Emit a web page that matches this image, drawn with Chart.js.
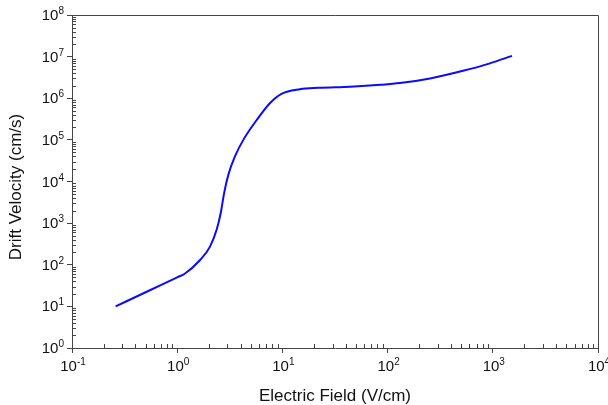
<!DOCTYPE html>
<html>
<head>
<meta charset="utf-8">
<script src="https://cdn.jsdelivr.net/npm/chart.js@4.4.1/dist/chart.umd.min.js"></script>
<style>
  html, body { margin: 0; padding: 0; background: #fff; }
  #wrap { width: 608px; height: 405px; position: relative; }
</style>
</head>
<body>
<div id="wrap"><canvas id="drift"></canvas></div>
<script>
// electric field (V/cm) and drift velocity (cm/s)
const fieldValues = [0.26, 0.55, 1.0, 1.17, 1.65, 2.05, 2.37, 2.59, 2.79, 3.06, 3.54, 4.25, 5.7, 7.6, 9.8, 14.7, 22, 44, 85, 131, 253, 521, 940, 1522];
const velocityValues = [10, 24.4, 50, 60, 130, 272, 690, 1730, 5200, 14400, 40000, 100000, 300000, 760000, 1.28e6, 1.65e6, 1.78e6, 1.9e6, 2.1e6, 2.31e6, 2.99e6, 4.56e6, 6.9e6, 1.045e7];

// decade exponents for the tick labels
const xDecades = [-1, 0, 1, 2, 3, 4];
const yDecades = [0, 1, 2, 3, 4, 5, 6, 7, 8];

const axisColor = '#444444';
const fontFamily = '"Liberation Sans", Arial, sans-serif';

const points = fieldValues.map((x, i) => ({ x: x, y: velocityValues[i] }));

// "10" with a raised exponent
function drawPower(ctx, exp, x, y, align) {
  ctx.font = '15px ' + fontFamily;
  const w1 = ctx.measureText('10').width;
  ctx.font = '10px ' + fontFamily;
  const w2 = ctx.measureText(String(exp)).width;
  const total = w1 + w2;
  let start = align === 'right' ? x - total : x - total / 2;
  ctx.textAlign = 'left';
  ctx.textBaseline = 'alphabetic';
  ctx.font = '15px ' + fontFamily;
  ctx.fillText('10', start, y);
  ctx.font = '10px ' + fontFamily;
  ctx.fillText(String(exp), start + w1, y - 6);
}

const logFrame = {
  id: 'logFrame',
  afterDraw(chart) {
    const ctx = chart.ctx;
    const area = chart.chartArea;
    const xs = chart.scales.x;
    const ys = chart.scales.y;
    ctx.save();
    ctx.strokeStyle = axisColor;
    ctx.lineWidth = 1;

    // top and right edges of the frame
    ctx.beginPath();
    ctx.moveTo(area.left, area.top + 0.5);
    ctx.lineTo(area.right + 0.5, area.top + 0.5);
    ctx.lineTo(area.right + 0.5, area.bottom);
    ctx.stroke();

    // minor ticks, pointing inward
    ctx.beginPath();
    for (let d = xDecades[0]; d < xDecades[xDecades.length - 1]; d++) {
      for (let k = 2; k <= 9; k++) {
        const px = Math.round(xs.getPixelForValue(k * Math.pow(10, d))) + 0.5;
        ctx.moveTo(px, area.bottom);
        ctx.lineTo(px, area.bottom - 4);
      }
    }
    for (let d = yDecades[0]; d < yDecades[yDecades.length - 1]; d++) {
      for (let k = 2; k <= 9; k++) {
        const py = Math.round(ys.getPixelForValue(k * Math.pow(10, d))) + 0.5;
        ctx.moveTo(area.left, py);
        ctx.lineTo(area.left + 4, py);
      }
    }
    ctx.stroke();

    // tick labels
    ctx.fillStyle = '#111';
    xDecades.forEach(p => {
      const px = xs.getPixelForValue(Math.pow(10, p));
      drawPower(ctx, p, px + 1, area.bottom + 23, 'center');
    });
    yDecades.forEach(p => {
      const py = ys.getPixelForValue(Math.pow(10, p));
      drawPower(ctx, p, area.left - 8, py + 5, 'right');
    });

    // axis titles
    ctx.font = '17px ' + fontFamily;
    ctx.textAlign = 'center';
    ctx.textBaseline = 'alphabetic';
    ctx.fillText('Electric Field (V/cm)', (area.left + area.right) / 2, 401);
    ctx.translate(21, 187);
    ctx.rotate(-Math.PI / 2);
    ctx.fillText('Drift Velocity (cm/s)', 0, 0);
    ctx.restore();
  }
};

new Chart(document.getElementById('drift'), {
  type: 'line',
  data: {
    datasets: [{
      data: points,
      borderColor: '#0a0aff',
      borderWidth: 2,
      pointRadius: 0,
      fill: false,
      cubicInterpolationMode: 'monotone'
    }]
  },
  options: {
    responsive: true,
    maintainAspectRatio: false,
    animation: false,
    layout: { padding: { left: 67, right: 10, top: 15, bottom: 52 } },
    plugins: { legend: { display: false }, tooltip: { enabled: false } },
    scales: {
      x: {
        type: 'logarithmic',
        min: 0.1,
        max: 10000,
        afterBuildTicks: scale => {
          scale.ticks = xDecades.map(p => ({ value: Math.pow(10, p), major: true }));
        },
        ticks: { display: false },
        grid: { drawOnChartArea: false, drawTicks: true, tickLength: 5, color: axisColor },
        border: { display: true, color: axisColor, width: 1 }
      },
      y: {
        type: 'logarithmic',
        min: 1,
        max: 1e8,
        afterBuildTicks: scale => {
          scale.ticks = yDecades.map(p => ({ value: Math.pow(10, p), major: true }));
        },
        ticks: { display: false },
        grid: { drawOnChartArea: false, drawTicks: true, tickLength: 5, color: axisColor },
        border: { display: true, color: axisColor, width: 1 }
      }
    }
  },
  plugins: [logFrame]
});
</script>
</body>
</html>
